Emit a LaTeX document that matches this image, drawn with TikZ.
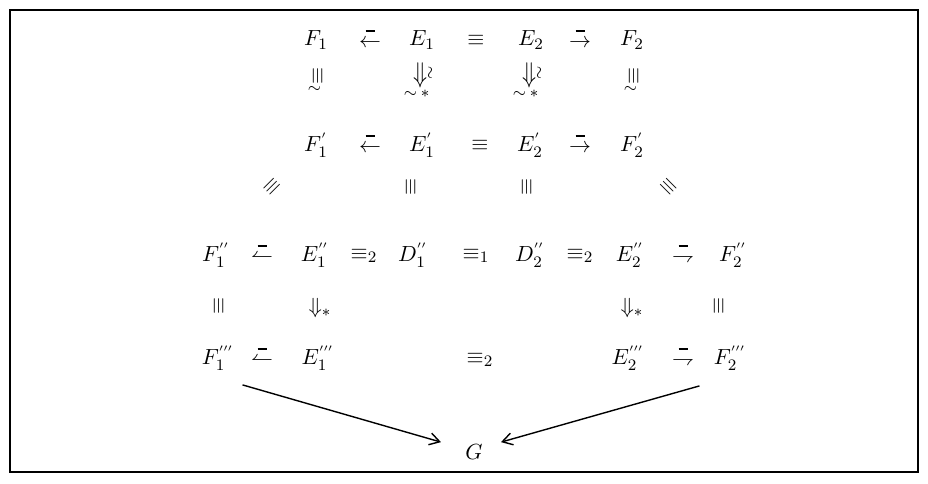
\documentclass[tikz,border=0pt]{standalone}
\usepackage{amsmath,graphicx}
\usetikzlibrary{arrows.meta}
\newcommand{\topbar}{\rule{4.5pt}{0.9pt}}
\newcommand{\barl}{\mathrel{\overset{\raisebox{1.5pt}{\topbar}}{\leftarrow}}}
\newcommand{\barr}{\mathrel{\overset{\raisebox{1.5pt}{\topbar}}{\rightarrow}}}
\newcommand{\barhl}{\mathrel{\overset{\raisebox{1.5pt}{\topbar}}{\leftharpoonup}}}
\newcommand{\barhr}{\mathrel{\overset{\raisebox{1.5pt}{\topbar}}{\rightharpoondown}}}
\newcommand{\vtriple}{\rotatebox[origin=c]{90}{$\equiv$}}
\newcommand{\vcongsym}{\rlap{\hspace{-2.5pt}\raisebox{-5.5pt}{$\scriptstyle\sim$}}\vtriple}
\newcommand{\dcongsym}{$\rlap{\hspace{-5pt}\raisebox{-7.5pt}{$\scriptstyle\sim$}\hspace{1.8pt}\raisebox{-7.5pt}{$\scriptstyle *$}}\scalebox{1.05}[1.3]{$\Downarrow$}\raisebox{3pt}{\rotatebox[origin=c]{90}{$\scriptstyle\sim$}}$}
\tikzset{
  sym/.style={inner sep=1pt, font=\fontsize{11}{13}\selectfont},
  conn/.style={-{Straight Barb[length=5pt,width=6pt]}, line width=0.7pt}
}
\begin{document}
\begin{tikzpicture}[x=0.5pt,y=-0.5pt]
\useasboundingbox (0,0) rectangle (928,483);
\draw[line width=0.6pt] (10,10) rectangle (918,472);
% row 1
\node[sym] (F1) at (316,40) {$F_1$};
\node[sym] (a1) at (370,38) {$\barl$};
\node[sym] (E1) at (422,40) {$E_1$};
\node[sym] (q1) at (476,40) {$\equiv$};
\node[sym] (E2) at (531,40) {$E_2$};
\node[sym] (a2) at (580,38) {$\barr$};
\node[sym] (F2) at (632,40) {$F_2$};
% row 2
\node[sym] (c1) at (318,80) {\vcongsym};
\node[sym] (d1) at (424,80) {\dcongsym};
\node[sym] (d2) at (533,80) {\dcongsym};
\node[sym] (c2) at (634,80) {\vcongsym};
% row 3
\node[sym] (F1p) at (316,145) {$F_1^{'}$};
\node[sym] (a3) at (370,143) {$\barl$};
\node[sym] (E1p) at (422,145) {$E_1^{'}$};
\node[sym] (q3) at (480,145) {$\equiv$};
\node[sym] (E2p) at (530,145) {$E_2^{'}$};
\node[sym] (a4) at (580,143) {$\barr$};
\node[sym] (F2p) at (632,145) {$F_2^{'}$};
% row 4
\node[sym,rotate=45] (s1) at (272,187) {$\equiv$};
\node[sym] (s2) at (411,187) {\vtriple};
\node[sym] (s3) at (527,187) {\vtriple};
\node[sym,rotate=-45] (s4) at (668,187) {$\equiv$};
% row 5
\node[sym] (F1pp) at (216,255) {$F_1^{''}$};
\node[sym] (a5) at (262,253) {$\barhl$};
\node[sym] (E1pp) at (315,255) {$E_1^{''}$};
\node[sym] (q5a) at (364,256) {$\equiv_2$};
\node[sym] (D1pp) at (413,255) {$D_1^{''}$};
\node[sym] (q5b) at (476,256) {$\equiv_1$};
\node[sym] (D2pp) at (530,255) {$D_2^{''}$};
\node[sym] (q5c) at (580,256) {$\equiv_2$};
\node[sym] (E2pp) at (630,255) {$E_2^{''}$};
\node[sym] (a6) at (683,253) {$\barhr$};
\node[sym] (F2pp) at (733,255) {$F_2^{''}$};
% row 6
\node[sym] (v1) at (219,306) {\vtriple};
\node[sym] (d3) at (320,308) {$\Downarrow_{*}$};
\node[sym] (d4) at (632,308) {$\Downarrow_{*}$};
\node[sym] (v2) at (719,306) {\vtriple};
% row 7
\node[sym] (F1ppp) at (218,358) {$F_1^{'''}$};
\node[sym] (a7) at (262,356) {$\barhl$};
\node[sym] (E1ppp) at (318,358) {$E_1^{'''}$};
\node[sym] (q7) at (480,360) {$\equiv_2$};
\node[sym] (E2ppp) at (628,358) {$E_2^{'''}$};
\node[sym] (a8) at (683,356) {$\barhr$};
\node[sym] (F2ppp) at (730,358) {$F_2^{'''}$};
% G
\node[sym] (G) at (474,452) {$G$};
\draw[conn] ([shift={(6,12)}]F1ppp.south east) -- ([shift={(-22,0)}]G.north west);
\draw[conn] ([shift={(-12,13)}]F2ppp.south west) -- ([shift={(16,0)}]G.north east);
\end{tikzpicture}
\end{document}
